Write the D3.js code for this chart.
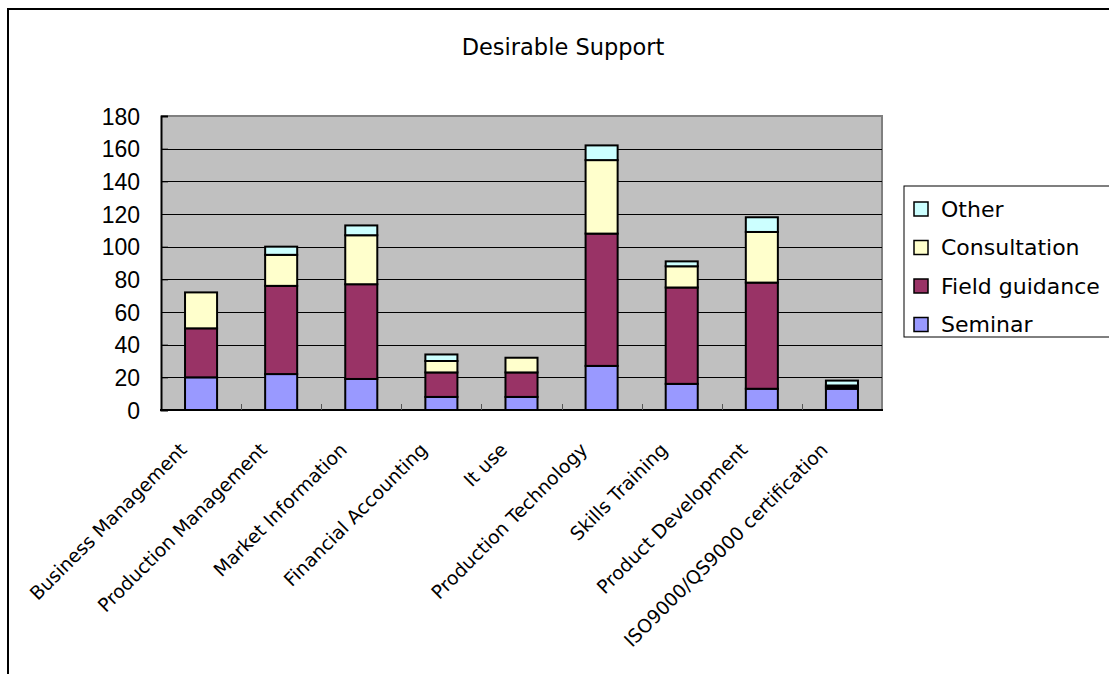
<!DOCTYPE html>
<html>
<head>
<meta charset="utf-8">
<script src="https://cdn.jsdelivr.net/npm/d3@7/dist/d3.min.js"></script>
<style>
  html, body { margin: 0; padding: 0; background: #fff; overflow: hidden; }
  svg { display: block; }
</style>
</head>
<body>
<svg id="chart" width="1109" height="674"></svg>
<script>
// Categories and stacked series (counts of respondents)
const categories = [
  "Business Management", "Production Management", "Market Information",
  "Financial Accounting", "It use", "Production Technology",
  "Skills Training", "Product Development", "ISO9000/QS9000 certification"
];
const seminar      = [20, 22, 19,  8,  8, 27, 16, 13, 13];
const fieldGuide   = [30, 54, 58, 15, 15, 81, 59, 65,  1];
const consultation = [22, 19, 30,  7,  9, 45, 13, 31,  1];
const other        = [ 0,  5,  6,  4,  0,  9,  3,  9,  3];
const seriesNames  = ["Seminar", "Field guidance", "Consultation", "Other"];
const yTicks       = [0, 20, 40, 60, 80, 100, 120, 140, 160, 180];

const colors = {
  "Seminar": "#9999FF",
  "Field guidance": "#993366",
  "Consultation": "#FFFFCC",
  "Other": "#CCFFFF"
};

const rows = categories.map((c, i) => ({
  category: c,
  "Seminar": seminar[i],
  "Field guidance": fieldGuide[i],
  "Consultation": consultation[i],
  "Other": other[i]
}));

const svg = d3.select("#chart");

// Outer chart frame
svg.append("rect")
  .attr("x", 8).attr("y", 9)
  .attr("width", 1130).attr("height", 700)
  .attr("fill", "#fff").attr("stroke", "#000").attr("stroke-width", 2);

// Title
svg.append("text")
  .attr("x", 563).attr("y", 55)
  .attr("text-anchor", "middle")
  .attr("font-family", "DejaVu Sans, sans-serif")
  .attr("font-size", 22.5)
  .attr("fill", "#000")
  .text("Desirable Support");

const plot = { left: 161, right: 882, top: 116, bottom: 410 };

const x = d3.scaleBand()
  .domain(categories)
  .range([plot.left, plot.right])
  .paddingInner(0.6)
  .paddingOuter(0.3);

const y = d3.scaleLinear()
  .domain([0, 180])
  .range([plot.bottom, plot.top]);

// Plot background
svg.append("rect")
  .attr("x", plot.left).attr("y", plot.top)
  .attr("width", plot.right - plot.left).attr("height", plot.bottom - plot.top)
  .attr("fill", "#C0C0C0");

// Top and right border of the plot area (grey)
svg.append("path")
  .attr("d", `M${plot.left},${plot.top}H${plot.right}V${plot.bottom}`)
  .attr("fill", "none").attr("stroke", "#808080").attr("stroke-width", 2);

// Horizontal gridlines
svg.append("g")
  .selectAll("line")
  .data(yTicks.filter(t => t > 0 && t < 180))
  .join("line")
  .attr("x1", plot.left).attr("x2", plot.right)
  .attr("y1", d => Math.round(y(d)) + 0.5).attr("y2", d => Math.round(y(d)) + 0.5)
  .attr("stroke", "#000").attr("stroke-width", 1);

// Stacked bars
const stack = d3.stack().keys(seriesNames);
const stacked = stack(rows);

svg.append("g")
  .selectAll("g")
  .data(stacked)
  .join("g")
  .attr("fill", d => colors[d.key])
  .selectAll("rect")
  .data(d => d.filter(s => s[1] - s[0] > 0))
  .join("rect")
  .attr("x", d => x(d.data.category))
  .attr("width", x.bandwidth())
  .attr("y", d => y(d[1]))
  .attr("height", d => y(d[0]) - y(d[1]))
  .attr("stroke", "#000")
  .attr("stroke-width", 2);

// Y axis
const yAxis = d3.axisLeft(y)
  .tickValues(yTicks)
  .tickSize(-7)
  .tickPadding(21)
  .tickFormat(d3.format("d"));

const gy = svg.append("g")
  .attr("transform", `translate(${plot.left},0)`)
  .call(yAxis);
gy.select(".domain").attr("stroke", "#000").attr("stroke-width", 2);
gy.selectAll(".tick line").attr("stroke", "#000");
gy.selectAll(".tick text")
  .attr("font-family", "Liberation Sans, Arial, sans-serif")
  .attr("font-size", 23)
  .attr("fill", "#000")
  .attr("dy", "0.36em");

// X axis baseline and category boundary ticks
const boundaries = d3.range(1, categories.length).map(i =>
  plot.left + i * (plot.right - plot.left) / categories.length);

svg.append("line")
  .attr("x1", plot.left - 1).attr("x2", plot.right + 1)
  .attr("y1", plot.bottom).attr("y2", plot.bottom)
  .attr("stroke", "#000").attr("stroke-width", 2);

svg.append("g")
  .selectAll("line")
  .data(boundaries)
  .join("line")
  .attr("x1", d => Math.round(d) + 0.5).attr("x2", d => Math.round(d) + 0.5)
  .attr("y1", plot.bottom).attr("y2", plot.bottom - 6)
  .attr("stroke", "#555").attr("stroke-width", 1);

// Rotated category labels
svg.append("g")
  .selectAll("text")
  .data(categories)
  .join("text")
  .attr("transform", d => `translate(${x(d) + x.bandwidth() / 2 - 13},${plot.bottom + 41}) rotate(-45)`)
  .attr("text-anchor", "end")
  .attr("font-family", "DejaVu Sans, sans-serif")
  .attr("font-size", 18.8)
  .attr("fill", "#000")
  .text(d => d);

// Legend
const legend = svg.append("g");
legend.append("rect")
  .attr("x", 904).attr("y", 186)
  .attr("width", 230).attr("height", 151)
  .attr("fill", "#fff").attr("stroke", "#000").attr("stroke-width", 1);

const legendOrder = seriesNames.slice().reverse();
const legendRows = legend.selectAll("g.item")
  .data(legendOrder)
  .join("g")
  .attr("class", "item")
  .attr("transform", (d, i) => `translate(914,${209 + i * 38.5})`);

legendRows.append("rect")
  .attr("x", 0).attr("y", -7)
  .attr("width", 14).attr("height", 14)
  .attr("fill", d => colors[d])
  .attr("stroke", "#000").attr("stroke-width", 1.5);

legendRows.append("text")
  .attr("x", 27).attr("y", 0)
  .attr("dy", "0.36em")
  .attr("font-family", "DejaVu Sans, sans-serif")
  .attr("font-size", 22)
  .attr("fill", "#000")
  .text(d => d);
</script>
</body>
</html>
